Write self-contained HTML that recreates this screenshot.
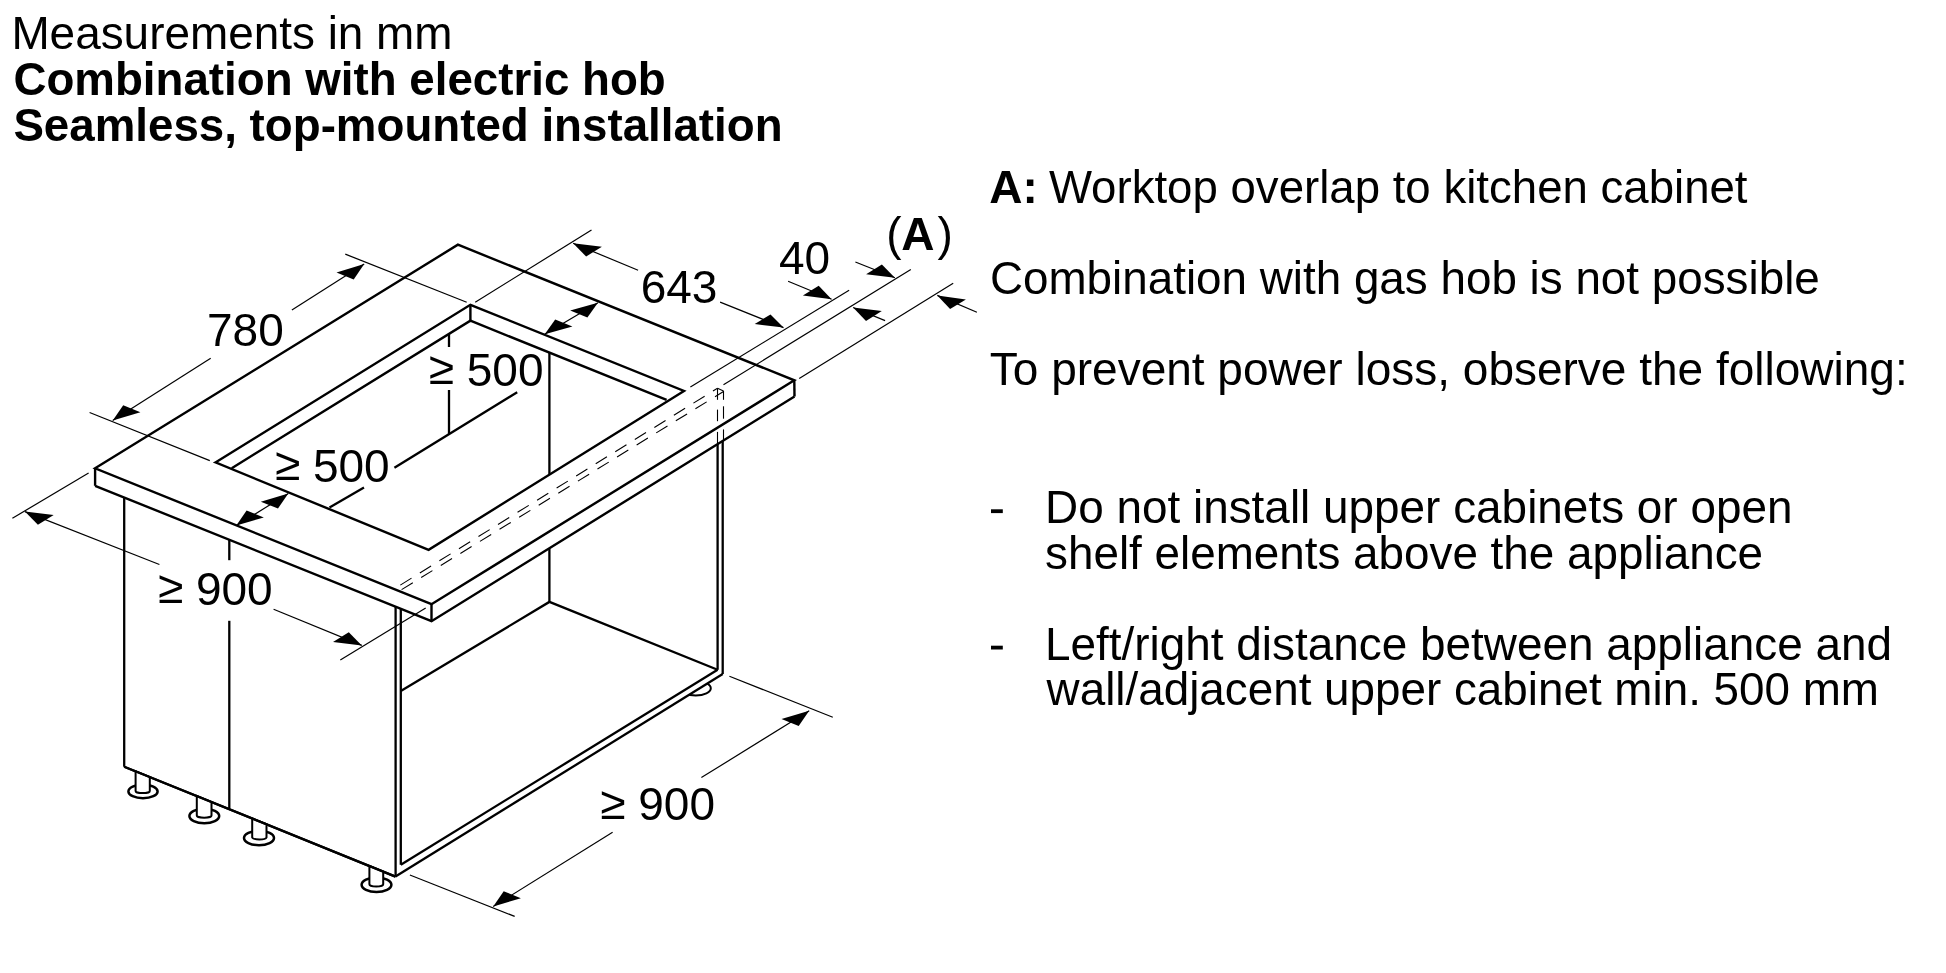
<!DOCTYPE html>
<html><head><meta charset="utf-8"><title>Measurements</title>
<style>
html,body{margin:0;padding:0;background:#fff;}
body{width:1946px;height:973px;overflow:hidden;position:relative;}
svg{position:absolute;left:0;top:0;filter:grayscale(100%);}
svg path,svg ellipse{fill:none;stroke:#000;stroke-linecap:butt;stroke-linejoin:miter;}
svg path.ar{fill:#000;stroke:none;}
svg path.wf{fill:#fff;}
svg text{font-family:"Liberation Sans",sans-serif;font-size:46px;fill:#000;}
svg rect{fill:#000;}
</style></head><body>
<svg width="1946" height="973" viewBox="0 0 1946 973">
<path d="M95.1,468.3 L457.9,244.7 L794.3,380.3 L431.5,604.2 Z" stroke-width="2.4"/>
<path d="M95.1,468.3 L95.1,485.8" stroke-width="2.4"/>
<path d="M431.5,604.2 L431.5,621.2" stroke-width="2.4"/>
<path d="M794.3,380.3 L794.5,396.5" stroke-width="2.4"/>
<path d="M95.1,485.8 L431.5,621.2 L794.5,396.5" stroke-width="2.4"/>
<path d="M215.4,462.4 L470.4,304.8 L684,391 L428.6,549.8 Z" stroke-width="2.4"/>
<path d="M470.4,304.8 L470.4,320.7" stroke-width="2.4"/>
<path d="M231.7,468.2 L470.4,320.7 L666.6,399.9" stroke-width="2.4"/>
<path d="M549.4,352.8 L549.4,474.5" stroke-width="2.3"/>
<path d="M449,334 L449,347" stroke-width="2.3"/>
<path d="M449,390 L449,434.1" stroke-width="2.3"/>
<path d="M329.5,507.6 L364,487.6" stroke-width="2.3"/>
<path d="M394.4,467.8 L517.2,392.2" stroke-width="2.3"/>
<path d="M124.2,497.3 L124.2,766.7" stroke-width="2.3"/>
<path d="M124.2,766.7 L395.5,876.6" stroke-width="2.3"/>
<path d="M229.3,539.6 L229.3,560.2" stroke-width="2.3"/>
<path d="M229.3,620.8 L229.3,808.3" stroke-width="2.3"/>
<path d="M395.6,606.6 L395.6,876.6" stroke-width="2.3"/>
<path d="M400.8,608.8 L400.8,864.7" stroke-width="2.3"/>
<path d="M395.5,876.6 L722.7,674" stroke-width="2.3"/>
<path d="M400.8,864.7 L717.6,669.8" stroke-width="2.3"/>
<path d="M717.6,444.1 L717.6,669.8" stroke-width="2.3"/>
<path d="M722.7,440.9 L722.7,674" stroke-width="2.3"/>
<path d="M549.4,548.3 L549.4,601.9" stroke-width="2.3"/>
<path d="M400.8,691.1 L549.4,601.9 L717.6,669.8" stroke-width="2.3"/>
<ellipse cx="143" cy="791.4" rx="14.6" ry="6.8" stroke-width="2.5"/>
<path d="M135.6,771.3 L135.6,790.9 A7.1,2.2 0 0 0 149.8,790.9 L149.8,777.1 Z" class="wf" stroke-width="2"/>
<ellipse cx="204.3" cy="816" rx="14.9" ry="7.2" stroke-width="2.5"/>
<path d="M196.8,796.1 L196.8,815.5 A7.3,2.2 0 0 0 211.5,815.5 L211.5,802.1 Z" class="wf" stroke-width="2"/>
<ellipse cx="259" cy="838" rx="15" ry="7.2" stroke-width="2.5"/>
<path d="M252.2,818.6 L252.2,837.5 A7.2,2.2 0 0 0 266.5,837.5 L266.5,824.3 Z" class="wf" stroke-width="2"/>
<ellipse cx="376.5" cy="884.8" rx="14.9" ry="7.2" stroke-width="2.5"/>
<path d="M369.4,866 L369.4,884.3 A6.9,2.2 0 0 0 383.2,884.3 L383.2,871.6 Z" class="wf" stroke-width="2"/>
<path d="M124.2,766.7 L395.5,876.6" stroke-width="2.3"/>
<clipPath id="cf"><path d="M395.5,876.6 L722.7,674 L760,650 L760,760 L600,760 Z"/></clipPath>
<ellipse cx="695.8" cy="688.3" rx="15" ry="7.2" stroke-width="2" clip-path="url(#cf)"/>
<path d="M400.3,585.1 L717.5,388.2" stroke-width="1.1" stroke-dasharray="13.2 9.8" stroke-dashoffset="0"/>
<path d="M401.6,589.6 L723.5,391.5" stroke-width="1.1" stroke-dasharray="13.2 9.8" stroke-dashoffset="0"/>
<path d="M717.5,388.2 L723.5,391.1" stroke-width="1.1"/>
<path d="M717.5,388.2 L717.5,399.8" stroke-width="1.1"/>
<path d="M717.5,409.6 L717.5,421.2" stroke-width="1.1"/>
<path d="M717.5,431.9 L717.5,443.5" stroke-width="1.1"/>
<path d="M723.5,390.9 L723.5,399.8" stroke-width="1.1"/>
<path d="M723.5,406.3 L723.5,418.7" stroke-width="1.1"/>
<path d="M723.5,429.4 L723.5,441" stroke-width="1.1"/>
<path d="M89.6,412.5 L209.8,460.6" stroke-width="1.2"/>
<path d="M345.3,254.1 L466.7,302.2" stroke-width="1.2"/>
<path d="M112.7,420.6 L210.7,358.3" stroke-width="1.2"/>
<path d="M291.9,310 L364.2,264" stroke-width="1.2"/>
<path d="M112.7,420.6 L140.4,412.2 L123.2,405.2 Z" class="ar"/>
<path d="M364.2,264 L353.7,279.4 L336.5,272.4 Z" class="ar"/>
<path d="M475.2,302.2 L591.5,230" stroke-width="1.2"/>
<path d="M690.4,387 L849.1,290.3" stroke-width="1.2"/>
<path d="M573.1,243.3 L638.1,270.2" stroke-width="1.2"/>
<path d="M720.1,302.1 L783.5,327.6" stroke-width="1.2"/>
<path d="M573.1,243.3 L601.9,246.8 L586.1,256.5 Z" class="ar"/>
<path d="M783.5,327.6 L770.5,314.4 L754.7,324.1 Z" class="ar"/>
<path d="M723.5,384.8 L910.8,269.4" stroke-width="1.2"/>
<path d="M788.1,281.2 L831.6,299.3" stroke-width="1.2"/>
<path d="M885.1,320.6 L853.1,307.5" stroke-width="1.2"/>
<path d="M831.6,299.3 L818.7,285.8 L802.9,295.5 Z" class="ar"/>
<path d="M853.1,307.5 L881.8,311.1 L866,320.9 Z" class="ar"/>
<path d="M799.2,378.5 L953.2,283.3" stroke-width="1.2"/>
<path d="M855.4,262 L894.9,277.8" stroke-width="1.2"/>
<path d="M976.9,312.3 L937.3,295.4" stroke-width="1.2"/>
<path d="M894.9,277.8 L881.9,264.6 L866.1,274.3 Z" class="ar"/>
<path d="M937.3,295.4 L965.9,299.4 L950.1,309.1 Z" class="ar"/>
<path d="M597.9,302.8 L544.7,334.3" stroke-width="1.2"/>
<path d="M597.9,302.8 L587.4,317.6 L570.2,310.6 Z" class="ar"/>
<path d="M544.7,334.3 L572.4,326.5 L555.2,319.5 Z" class="ar"/>
<path d="M288.3,493.5 L236.3,525.6" stroke-width="1.2"/>
<path d="M288.3,493.5 L278,508.6 L260.8,501.7 Z" class="ar"/>
<path d="M236.3,525.6 L263.8,517.4 L246.6,510.5 Z" class="ar"/>
<path d="M12.4,518.3 L88.6,472.9" stroke-width="1.2"/>
<path d="M340.3,660.1 L425.7,608.1" stroke-width="1.2"/>
<path d="M24.9,511.6 L159.4,564.5" stroke-width="1.2"/>
<path d="M273.6,609.2 L361.8,645.4" stroke-width="1.2"/>
<path d="M24.9,511.6 L53.7,515 L37.9,524.8 Z" class="ar"/>
<path d="M361.8,645.4 L348.8,632.2 L333,642 Z" class="ar"/>
<path d="M409.9,875 L514.7,916.4" stroke-width="1.2"/>
<path d="M729.4,676.3 L832.8,717.2" stroke-width="1.2"/>
<path d="M493.2,906.6 L612.6,832.3" stroke-width="1.2"/>
<path d="M701.4,777.6 L809.2,710.7" stroke-width="1.2"/>
<path d="M493.2,906.6 L520.9,898.2 L503.7,891.3 Z" class="ar"/>
<path d="M809.2,710.7 L798.7,726 L781.5,719.1 Z" class="ar"/>
<text x="207" y="345.9">780</text>
<text x="640.7" y="303.4">643</text>
<text x="779" y="273.6">40</text>
<text x="886.3" y="250.1">(</text>
<text x="901.3" y="250.1" font-weight="bold">A</text>
<text x="937.5" y="250.1">)</text>
<text x="428.7" y="385.6"><tspan dy="-1.8">≥</tspan><tspan dy="1.8"> 500</tspan></text>
<text x="274.9" y="481.6"><tspan dy="-1.8">≥</tspan><tspan dy="1.8"> 500</tspan></text>
<text x="157.9" y="604.8"><tspan dy="-1.8">≥</tspan><tspan dy="1.8"> 900</tspan></text>
<text x="600.2" y="820.4"><tspan dy="-1.8">≥</tspan><tspan dy="1.8"> 900</tspan></text>
<text x="11.4" y="49.2" style="font-size:45.9px">Measurements in mm</text>
<text x="13.4" y="94.8" style="font-size:45.7px" font-weight="bold">Combination with electric hob</text>
<text x="13.4" y="140.9" style="font-size:45.7px" font-weight="bold">Seamless, top-mounted installation</text>
<text x="989.3" y="202.6" font-weight="bold">A:</text>
<text x="1048.9" y="202.6" style="font-size:45.6px">Worktop overlap to kitchen cabinet</text>
<text x="989.9" y="294.3" style="font-size:45.8px">Combination with gas hob is not possible</text>
<text x="989.8" y="385.4">To prevent power loss, observe the following:</text>
<rect x="991" y="509.3" width="11.8" height="3.8"/>
<text x="1045" y="523.4" style="font-size:45.9px">Do not install upper cabinets or open</text>
<text x="1045.1" y="568.5" style="font-size:45.8px">shelf elements above the appliance</text>
<rect x="991" y="645.7" width="11.8" height="3.8"/>
<text x="1045" y="659.8" style="font-size:45.9px">Left/right distance between appliance and</text>
<text x="1046.6" y="704.6" style="font-size:45.8px">wall/adjacent upper cabinet min. 500 mm</text>
</svg>
</body></html>
